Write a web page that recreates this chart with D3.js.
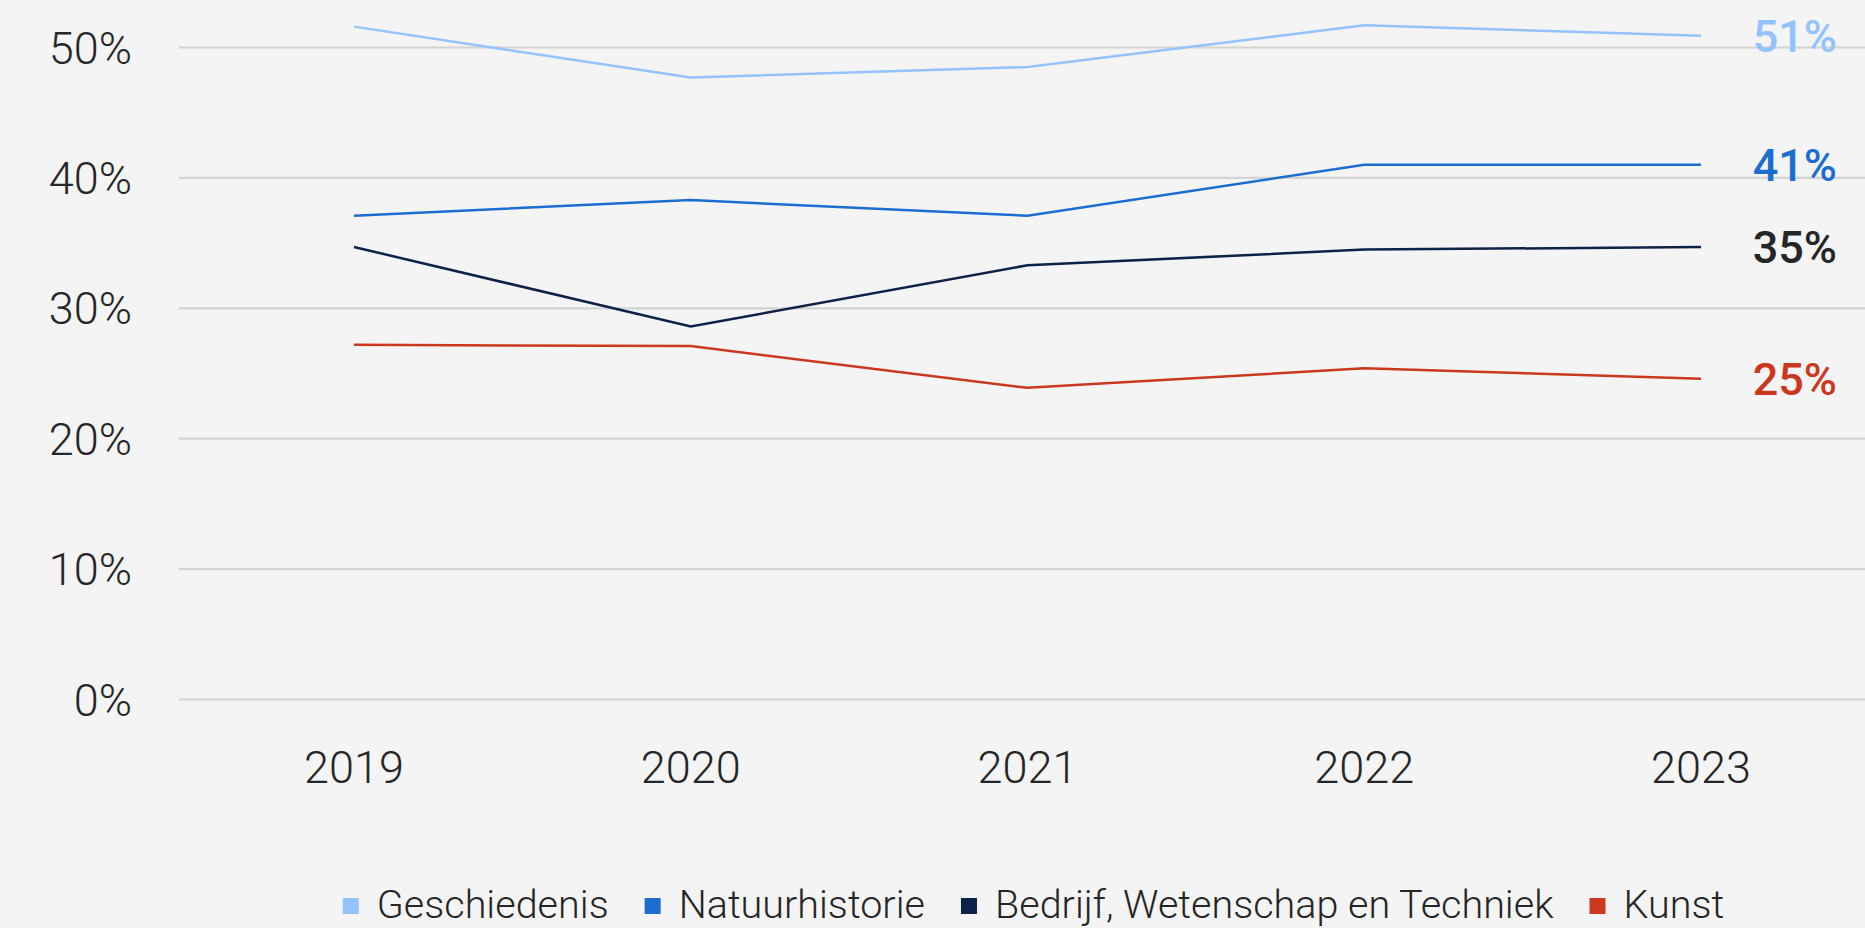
<!DOCTYPE html>
<html>
<head>
<meta charset="utf-8">
<script src="https://cdn.jsdelivr.net/npm/d3@7"></script>
<style>
  html, body { margin: 0; padding: 0; background: #f4f4f4; }
  svg { display: block; }
  text { font-family: Roboto, "Liberation Sans", sans-serif; fill: #262626; }
</style>
</head>
<body>
<svg id="chart" width="1865" height="928"></svg>
<script>
// Share of museum visitors per museum type, 2019–2023 (percent)
const years = ["2019", "2020", "2021", "2022", "2023"];
const seriesNames = ["Geschiedenis", "Natuurhistorie", "Bedrijf, Wetenschap en Techniek", "Kunst"];
const geschiedenis   = [51.6, 47.7, 48.5, 51.7, 50.9];
const natuurhistorie = [37.1, 38.3, 37.1, 41.0, 41.0];
const bedrijf        = [34.7, 28.6, 33.3, 34.5, 34.7];
const kunst          = [27.2, 27.1, 23.9, 25.4, 24.6];
const yTicks = [0, 10, 20, 30, 40, 50];
const colors = ["#93c3ff", "#1c6dd0", "#0c2248", "#cb381d"];
const labelColors = ["#93c3ff", "#1c6dd0", "#262626", "#cb381d"];

const seriesValues = [geschiedenis, natuurhistorie, bedrijf, kunst];
const series = seriesNames.map((name, i) => ({
  name, color: colors[i], labelColor: labelColors[i],
  values: years.map((y, j) => ({ year: y, value: seriesValues[i][j] }))
}));

const W = 1865, H = 928;
const svg = d3.select("#chart");
svg.append("rect").attr("width", W).attr("height", H).attr("fill", "#f4f4f4");

const x = d3.scalePoint().domain(years).range([354, 1701]);
const y = d3.scaleLinear().domain([0, 50]).range([699.5, 47.5]);

// horizontal gridlines
svg.append("g")
  .selectAll("line")
  .data(yTicks)
  .join("line")
  .attr("x1", 179).attr("x2", W)
  .attr("y1", d => y(d)).attr("y2", d => y(d))
  .attr("stroke", "#d4d4d4").attr("stroke-width", 2.2);

// y axis labels
svg.append("g")
  .selectAll("text")
  .data(yTicks)
  .join("text")
  .attr("x", 132).attr("y", d => y(d) + 16)
  .attr("text-anchor", "end")
  .attr("font-size", 45).attr("font-weight", 300)
  .text(d => d + "%");

// x axis labels
svg.append("g")
  .selectAll("text")
  .data(years)
  .join("text")
  .attr("x", d => x(d)).attr("y", 783)
  .attr("text-anchor", "middle")
  .attr("font-size", 45).attr("font-weight", 300)
  .text(d => d);

// lines
const line = d3.line().x(d => x(d.year)).y(d => y(d.value));
svg.append("g")
  .selectAll("path")
  .data(series)
  .join("path")
  .attr("d", d => line(d.values))
  .attr("fill", "none")
  .attr("stroke", d => d.color)
  .attr("stroke-width", 2.5)
  .attr("stroke-linejoin", "miter");

// end value labels
svg.append("g")
  .selectAll("text")
  .data(series)
  .join("text")
  .attr("x", 1837)
  .attr("y", d => y(d.values[d.values.length - 1].value) + 16)
  .attr("text-anchor", "end")
  .attr("font-size", 45).attr("font-weight", 500)
  .style("fill", d => d.labelColor)
  .text(d => Math.round(d.values[d.values.length - 1].value) + "%");

// legend
const legend = svg.append("g");
const items = legend.selectAll("g")
  .data(series)
  .join("g");
items.append("rect")
  .attr("width", 16).attr("height", 16)
  .attr("y", 898)
  .attr("fill", d => d.color);
items.append("text")
  .attr("x", 34).attr("y", 918)
  .attr("font-size", 39.5).attr("font-weight", 300)
  .text(d => d.name);

let cursor = 0;
const offsets = [];
items.each(function () {
  const w = d3.select(this).select("text").node().getComputedTextLength();
  offsets.push(cursor);
  cursor += 34 + w + 36;
});
const total = cursor - 36;
const startX = 1033.5 - total / 2;
items.attr("transform", (d, i) => `translate(${startX + offsets[i]},0)`);
</script>
</body>
</html>
